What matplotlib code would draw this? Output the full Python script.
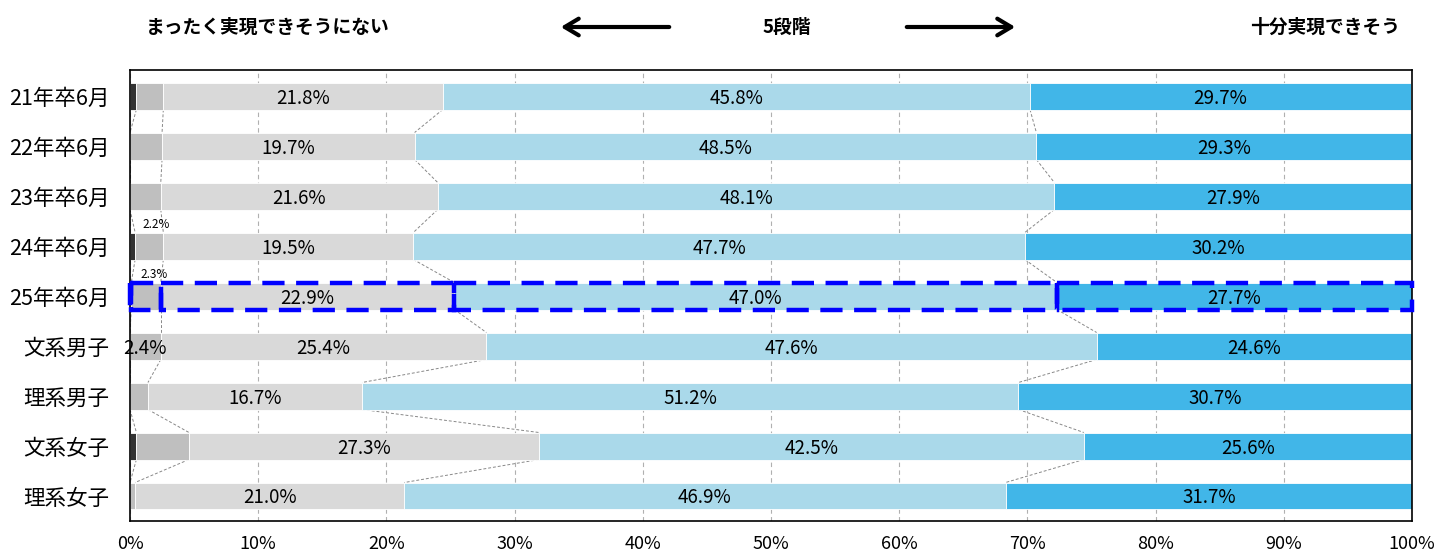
import matplotlib
matplotlib.use("Agg")
import matplotlib.pyplot as plt
from matplotlib.patches import Rectangle, FancyArrowPatch
import numpy as np

plt.rcParams['font.family'] = ['Noto Sans CJK JP', 'DejaVu Sans']

categories = ["21年卒6月", "22年卒6月", "23年卒6月", "24年卒6月", "25年卒6月",
              "文系男子", "理系男子", "文系女子", "理系女子"]

# five-step scale, from "not at all" to "fully achievable"
level1 = [0.5, 0.0, 0.0, 0.4, 0.1, 0.0, 0.0, 0.5, 0.0]
level2 = [2.1, 2.5, 2.4, 2.2, 2.3, 2.4, 1.4, 4.1, 0.4]
level3 = [21.8, 19.7, 21.6, 19.5, 22.9, 25.4, 16.7, 27.3, 21.0]
level4 = [45.8, 48.5, 48.1, 47.7, 47.0, 47.6, 51.2, 42.5, 46.9]
level5 = [29.7, 29.3, 27.9, 30.2, 27.7, 24.6, 30.7, 25.6, 31.7]

xticks = [0, 10, 20, 30, 40, 50, 60, 70, 80, 90, 100]
xtick_labels = ["0%", "10%", "20%", "30%", "40%", "50%", "60%", "70%", "80%", "90%", "100%"]

colors = ["#333333", "#bfbfbf", "#d9d9d9", "#aad9ea", "#41b6e8"]
series = [level1, level2, level3, level4, level5]

fig = plt.figure(figsize=(14.49, 5.56), dpi=100)
ax = fig.add_axes([130 / 1449, 1 - 521 / 556, 1282 / 1449, 451 / 556])

y = np.arange(len(categories))
h = 0.54
left = np.zeros(len(categories))
cums = [left.copy()]
for vals, col in zip(series, colors):
    vals = np.array(vals)
    ax.barh(y, vals, left=left, height=h, color=col, edgecolor="white",
            linewidth=0.6, zorder=2)
    left = left + vals
    cums.append(left.copy())

# connector lines between consecutive bars
for k in range(1, 5):
    c = cums[k]
    for i in range(len(categories) - 1):
        ax.plot([c[i], c[i + 1]], [i + h / 2, i + 1 - h / 2], color="#888888",
                lw=0.7, ls=(0, (3, 2)), zorder=1)

# value labels for the three main segments
for k in (2, 3, 4):
    vals = series[k]
    for i, v in enumerate(vals):
        xc = cums[k][i] + v / 2
        ax.text(xc, i + 0.04, f"{v:.1f}%", ha="center", va="center", fontsize=13.5,
                color="black", zorder=4)

# small-segment labels
for i in (3, 4):
    ax.text(cums[2][i] - 0.55, i - 0.43, f"{level2[i]:.1f}%", ha="center",
            va="center", fontsize=8.5, zorder=4)
ax.text(cums[1][5] + level2[5] / 2, 5 + 0.04, f"{level2[5]:.1f}%", ha="center",
        va="center", fontsize=13.5, zorder=4)

# highlight the latest year with dashed outlines
hi = 4
for k in range(5):
    x0 = cums[k][hi]
    w = series[k][hi]
    ax.add_patch(Rectangle((x0, hi - h / 2), w, h, fill=False, edgecolor="#0000ff",
                           lw=3.2, ls=(0, (5, 2.6)), zorder=5, clip_on=False))

ax.set_xlim(0, 100)
ax.set_ylim(8.5, -0.52)
ax.set_xticks(xticks)
ax.set_xticklabels(xtick_labels, fontsize=13)
ax.set_yticks(y)
ax.set_yticklabels(categories, fontsize=15.5)
ax.tick_params(axis="y", length=0, pad=15)
ax.tick_params(axis="x", length=0, pad=10)
ax.xaxis.grid(True, color="#b0b0b0", ls=(0, (4, 3)), lw=0.8, zorder=0)
ax.set_axisbelow(True)
for s in ax.spines.values():
    s.set_color("black")
    s.set_linewidth(1.2)

# header with scale direction
fig.text(268 / 1449, 1 - 27 / 556, "まったく実現できそうにない", ha="center", va="center",
         fontsize=13.5, fontweight="bold")
fig.text(787 / 1449, 1 - 27 / 556, "5段階", ha="center", va="center",
         fontsize=13.5, fontweight="bold")
fig.text(1325 / 1449, 1 - 27 / 556, "十分実現できそう", ha="center", va="center",
         fontsize=13.5, fontweight="bold")
for start, end in (((672, 27), (558, 27)), ((904, 27), (1018, 27))):
    fig.add_artist(FancyArrowPatch(
        (start[0] / 1449, 1 - start[1] / 556), (end[0] / 1449, 1 - end[1] / 556),
        transform=fig.transFigure, arrowstyle="->,head_length=10,head_width=6",
        lw=3, color="black", mutation_scale=1))

fig.savefig("out.png", dpi=100)
